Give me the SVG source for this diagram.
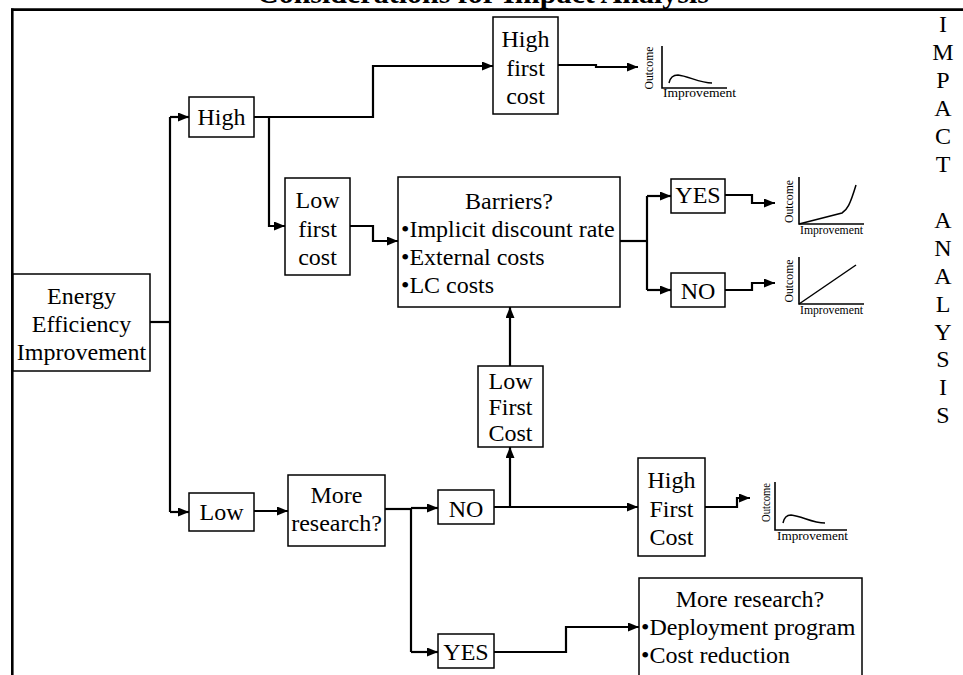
<svg xmlns="http://www.w3.org/2000/svg" width="963" height="675" viewBox="0 0 963 675">
<defs>
<style>
.box{fill:#fff;stroke:#000;stroke-width:1.5}
.t{font-family:"Liberation Serif","Times New Roman",serif;font-size:24px;fill:#000}
.m{text-anchor:middle}
.c{fill:none;stroke:#000;stroke-width:2.2}
.ax{fill:none;stroke:#000;stroke-width:1.6}
.cv{fill:none;stroke:#000;stroke-width:1.5}
.s{font-family:"Liberation Serif","Times New Roman",serif;fill:#000}
</style>
<marker id="ah" markerWidth="11" markerHeight="9" refX="11" refY="4.5" orient="auto" markerUnits="userSpaceOnUse"><path d="M0,0 L11,4.5 L0,9 z" fill="#000"/></marker>
</defs>
<rect width="963" height="675" fill="#fff"/>
<text class="t m" x="483" y="3" style="font-size:30px;font-weight:bold">Considerations for Impact Analysis</text>
<g id="frame">
<line x1="11" y1="9.7" x2="963" y2="9.7" stroke="#000" stroke-width="2.8"/>
<line x1="12.3" y1="8.5" x2="12.3" y2="675" stroke="#000" stroke-width="2.6"/>
</g>
<g id="connectors">
<path class="c" d="M150,322 H170"/>
<path class="c" d="M170,117 V512"/>
<path class="c" d="M170,117 H189" marker-end="url(#ah)"/>
<path class="c" d="M170,512 H189" marker-end="url(#ah)"/>
<path class="c" d="M254,117 H373 V66 H493" marker-end="url(#ah)"/>
<path class="c" d="M269,117 V226 H285" marker-end="url(#ah)"/>
<path class="c" d="M350,226 H373 V241 H398" marker-end="url(#ah)"/>
<path class="c" d="M558,65 H596 V67 H638" marker-end="url(#ah)"/>
<path class="c" d="M620,241 H647"/>
<path class="c" d="M647,196 V290"/>
<path class="c" d="M647,196 H671" marker-end="url(#ah)"/>
<path class="c" d="M647,290 H671" marker-end="url(#ah)"/>
<path class="c" d="M725,195 H752 V203 H775" marker-end="url(#ah)"/>
<path class="c" d="M725,290 H752 V283 H775" marker-end="url(#ah)"/>
<path class="c" d="M254,511 H288" marker-end="url(#ah)"/>
<path class="c" d="M385,509 H411"/>
<path class="c" d="M411,508 V652"/>
<path class="c" d="M411,508 H438" marker-end="url(#ah)"/>
<path class="c" d="M494,507 H638" marker-end="url(#ah)"/>
<path class="c" d="M510,507 V447" marker-end="url(#ah)"/>
<path class="c" d="M510,366 V307" marker-end="url(#ah)"/>
<path class="c" d="M705,507 H737 V498 H750" marker-end="url(#ah)"/>
<path class="c" d="M411,652 H438" marker-end="url(#ah)"/>
<path class="c" d="M494,652 H566 V627 H639" marker-end="url(#ah)"/>
</g>
<g id="eei">
<rect class="box" x="13" y="274" width="137" height="97"/>
<text class="t m" x="81.5" y="304">Energy</text>
<text class="t m" x="81.5" y="332">Efficiency</text>
<text class="t m" x="81.5" y="360">Improvement</text>
</g>
<g id="high">
<rect class="box" x="189" y="97" width="65" height="40"/>
<text class="t m" x="221.5" y="125">High</text>
</g>
<g id="low-first-cost-top">
<rect class="box" x="285" y="178" width="65" height="97"/>
<text class="t m" x="317.5" y="208">Low</text>
<text class="t m" x="317.5" y="236.5">first</text>
<text class="t m" x="317.5" y="265">cost</text>
</g>
<g id="high-first-cost-top">
<rect class="box" x="493" y="17" width="65" height="97"/>
<text class="t m" x="525.5" y="47">High</text>
<text class="t m" x="525.5" y="75.5">first</text>
<text class="t m" x="525.5" y="104">cost</text>
</g>
<g id="barriers">
<rect class="box" x="398" y="177" width="222" height="130"/>
<text class="t m" x="509" y="209">Barriers?</text>
<text class="t" x="401" y="237">•Implicit discount rate</text>
<text class="t" x="401" y="265">•External costs</text>
<text class="t" x="401" y="293">•LC costs</text>
</g>
<g id="yes-top">
<rect class="box" x="671" y="179" width="54" height="34"/>
<text class="t m" x="698" y="203">YES</text>
</g>
<g id="no-top">
<rect class="box" x="671" y="273" width="54" height="34"/>
<text class="t m" x="698" y="299">NO</text>
</g>
<g id="low-bottom">
<rect class="box" x="189" y="493" width="65" height="38"/>
<text class="t m" x="221.5" y="520">Low</text>
</g>
<g id="more-research">
<rect class="box" x="288" y="475" width="97" height="71"/>
<text class="t m" x="336.5" y="503">More</text>
<text class="t m" x="336.5" y="531">research?</text>
</g>
<g id="no-bottom">
<rect class="box" x="438" y="490" width="56" height="34"/>
<text class="t m" x="466" y="517">NO</text>
</g>
<g id="yes-bottom">
<rect class="box" x="438" y="634" width="56" height="34"/>
<text class="t m" x="466" y="660">YES</text>
</g>
<g id="low-first-cost-bottom">
<rect class="box" x="478" y="366" width="65" height="81"/>
<text class="t m" x="510.5" y="389">Low</text>
<text class="t m" x="510.5" y="415">First</text>
<text class="t m" x="510.5" y="441">Cost</text>
</g>
<g id="high-first-cost-bottom">
<rect class="box" x="638" y="458" width="67" height="98"/>
<text class="t m" x="671.5" y="488">High</text>
<text class="t m" x="671.5" y="516.5">First</text>
<text class="t m" x="671.5" y="545">Cost</text>
</g>
<g id="more-research-program">
<rect class="box" x="639" y="578" width="223" height="110"/>
<text class="t m" x="750" y="607">More research?</text>
<text class="t" x="641" y="635">•Deployment program</text>
<text class="t" x="641" y="663">•Cost reduction</text>
</g>
<g id="chart-top">
<path class="ax" d="M662,46 V88 H727"/>
<path class="cv" d="M669,83 C670,78 673,75 678,75 C688,76 700,83 712,83"/>
<text class="s m" transform="translate(653,68) rotate(-90)" style="font-size:12px" textLength="43" lengthAdjust="spacingAndGlyphs">Outcome</text>
<text class="s" x="663" y="97" style="font-size:13.5px" textLength="73" lengthAdjust="spacingAndGlyphs">Improvement</text>
</g>
<g id="chart-yes">
<path class="ax" d="M799,177 V224 H864"/>
<path class="cv" d="M799,224 L842,213 C847,210 850,205 856,185"/>
<text class="s m" transform="translate(793,201.5) rotate(-90)" style="font-size:11.7px" textLength="43" lengthAdjust="spacingAndGlyphs">Outcome</text>
<text class="s" x="800" y="234" style="font-size:11.7px" textLength="63" lengthAdjust="spacingAndGlyphs">Improvement</text>
</g>
<g id="chart-no">
<path class="ax" d="M799,257 V304 H864"/>
<path class="cv" d="M799,304 L856,265"/>
<text class="s m" transform="translate(793,281) rotate(-90)" style="font-size:11.7px" textLength="43" lengthAdjust="spacingAndGlyphs">Outcome</text>
<text class="s" x="800" y="314" style="font-size:11.7px" textLength="63" lengthAdjust="spacingAndGlyphs">Improvement</text>
</g>
<g id="chart-bottom">
<path class="ax" d="M775,482 V530 H847"/>
<path class="cv" d="M783,523 C784,518 786,515 791,515 C802,516 812,523 825,523"/>
<text class="s m" transform="translate(770,502.5) rotate(-90)" style="font-size:11.7px" textLength="39" lengthAdjust="spacingAndGlyphs">Outcome</text>
<text class="s" x="777" y="540" style="font-size:13.2px" textLength="71" lengthAdjust="spacingAndGlyphs">Improvement</text>
</g>
<g id="impact-analysis">
<text class="t m" x="943" y="32">I</text>
<text class="t m" x="943" y="60">M</text>
<text class="t m" x="943" y="88">P</text>
<text class="t m" x="943" y="116">A</text>
<text class="t m" x="943" y="144">C</text>
<text class="t m" x="943" y="172">T</text>
<text class="t m" x="943" y="227.5">A</text>
<text class="t m" x="943" y="255.5">N</text>
<text class="t m" x="943" y="283.5">A</text>
<text class="t m" x="943" y="311.5">L</text>
<text class="t m" x="943" y="339.5">Y</text>
<text class="t m" x="943" y="367">S</text>
<text class="t m" x="943" y="395">I</text>
<text class="t m" x="943" y="423">S</text>
</g>
</svg>
